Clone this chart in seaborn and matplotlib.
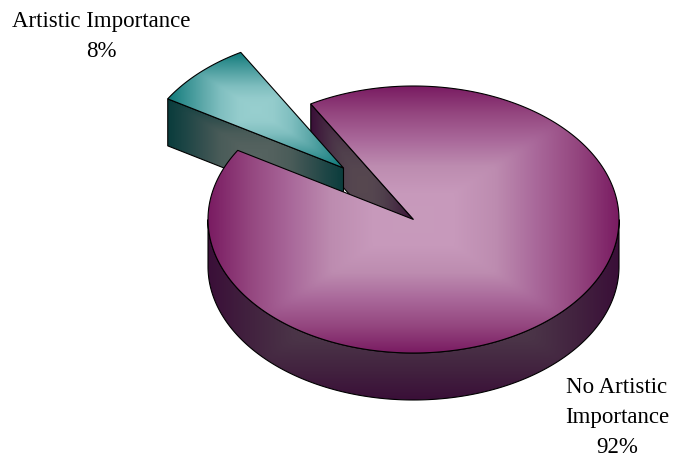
import numpy as np
import matplotlib
matplotlib.use("Agg")
import matplotlib.pyplot as plt
from matplotlib.patches import Polygon
import seaborn as sns

# Survey shares
categories = ["Artistic Importance", "No Artistic\nImportance"]
shares = [8, 92]

# Colour ramps run from the middle of a face out to its bounding box
top_main = ["#c89bbc", "#c799bb", "#bd8cb0", "#a9689a", "#94467f", "#7a1c62"]
side_main = ["#57484f", "#554650", "#50404c", "#4a3347", "#42223f", "#3a0f38"]
top_slice = ["#98cfcf", "#94cccc", "#80bfc0", "#5ea9aa", "#389293", "#107a7a"]
side_slice = ["#566461", "#53615e", "#4a5c59", "#35504f", "#1e4646", "#0a3c3c"]

sns.set_theme(style="white")
plt.rcParams["font.family"] = ["Liberation Serif", "DejaVu Serif"]

fig = plt.figure(figsize=(6.73, 4.57), dpi=100)
ax = fig.add_axes([0, 0, 1, 1])
ax.set_xlim(0, 673)
ax.set_ylim(457, 0)
ax.axis("off")

# Projected disc, measured in canvas pixels
cx, cy, rx, ry = 413.5, 219.5, 205.5, 133.5
depth = 47.0
pull_dx, pull_dy = -70.0, -51.5
start_angle = 120.0


def rim(theta_from, theta_to, x0=cx, y0=cy, n=240):
    """Points along the projected rim, angles in degrees counter-clockwise."""
    t = np.radians(np.linspace(theta_from, theta_to, n))
    return np.column_stack([x0 + rx * np.cos(t), y0 - ry * np.sin(t)])


def shaded_face(points, colors, box=None, z=1, outline=True):
    """Fill a polygon with a rectangular centre-out gradient."""
    points = np.asarray(points)
    if box is None:
        box = (points[:, 0].min(), points[:, 0].max(),
               points[:, 1].min(), points[:, 1].max())
    x0, x1, y0, y1 = box
    u, v = np.meshgrid(np.linspace(-1, 1, 400), np.linspace(-1, 1, 400))
    # A high-order norm keeps the diagonal rays while softening them a little
    field = np.clip((np.abs(u) ** 30 + np.abs(v) ** 30) ** (1 / 30), 0, 1)
    cmap = sns.blend_palette(colors, as_cmap=True)
    image = ax.imshow(field, extent=(x0, x1, y1, y0), cmap=cmap, vmin=0, vmax=1,
                      aspect="auto", zorder=z, interpolation="bilinear")
    patch = Polygon(points, closed=True, fc="none",
                    ec="black" if outline else "none", lw=0.8, zorder=z + 0.5)
    ax.add_patch(patch)
    image.set_clip_path(patch)


sweep_slice = 360 * shares[0] / sum(shares)
end_angle = start_angle + sweep_slice
centre = np.array([cx, cy])

# Main body walls sit furthest back
front = rim(180, 360)
wall = np.vstack([front, (front + [0, depth])[::-1]])
shaded_face(wall, side_main,
            box=(cx - rx, cx + rx, cy - ry + 24, cy + ry + depth), z=1)

near = rim(start_angle, start_angle, n=1)[0]
shaded_face([near, centre, centre + [0, depth], near + [0, depth]], side_main,
            box=(near[0], cx, near[1], cy + depth), z=2)

# Pulled-out slice passes in front of the inner wall
ax_cx, ax_cy = cx + pull_dx, cy + pull_dy
slice_arc = rim(start_angle, end_angle, ax_cx, ax_cy, 60)
apex = np.array([ax_cx, ax_cy])
far = slice_arc[-1]
shaded_face([far, apex, apex + [0, depth], far + [0, depth]], side_slice, z=3)
shaded_face(np.vstack([apex, slice_arc]), top_slice, z=4)

# The main top face covers the lower part of the slice
body_arc = rim(end_angle, start_angle + 360, n=500)
shaded_face(np.vstack([centre, body_arc]), top_main,
            box=(cx - rx, cx + rx, cy - ry, cy + ry), z=5)

# Category labels with their percentages, one baseline per line
ax.set_xlim(0, 673)
ax.set_ylim(457, 0)
label_anchor = [(101, 27), (617, 393)]
line_step = 30
for name, share, (lx, ly) in zip(categories, shares, label_anchor):
    for i, line in enumerate(f"{name}\n{share}%".split("\n")):
        ax.text(lx, ly + i * line_step, line, ha="center", va="baseline",
                fontsize=16.5, color="black", zorder=10)

fig.savefig("out.png", dpi=100, facecolor="white")
